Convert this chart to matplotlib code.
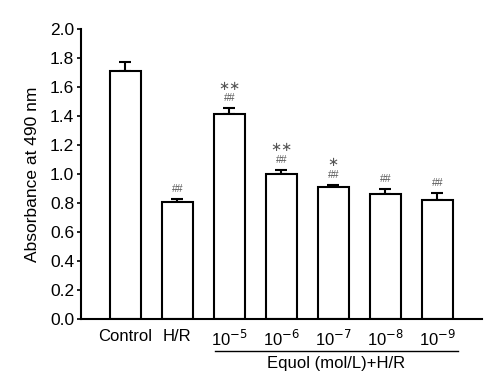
import matplotlib.pyplot as plt

plt.rcParams['font.family'] = ['Liberation Sans', 'DejaVu Sans']

# --- Daten ---
gruppen = ['Control', 'H/R', '10$^{-5}$', '10$^{-6}$', '10$^{-7}$', '10$^{-8}$', '10$^{-9}$']
absorbanz = [1.714, 0.811, 1.414, 1.004, 0.915, 0.866, 0.825]
fehler = [0.063, 0.020, 0.045, 0.028, 0.014, 0.035, 0.048]
rauten = ['', '##', '##', '##', '##', '##', '##']
sterne = ['', '', '**', '**', '*', '', '']
y_ticks = [0.0, 0.2, 0.4, 0.6, 0.8, 1.0, 1.2, 1.4, 1.6, 1.8, 2.0]

fig = plt.figure(figsize=(4.95, 3.81), dpi=100)
ax = fig.add_axes([0.1636, 0.162, 0.81, 0.761])

x = list(range(len(gruppen)))
ax.bar(x, absorbanz, width=0.6, color='white', edgecolor='black', linewidth=1.5, zorder=2)
ax.errorbar(x, absorbanz, yerr=[[0] * len(fehler), fehler], fmt='none', ecolor='black',
            elinewidth=1.5, capsize=4, capthick=1.5, zorder=1)

for xi, v, e, r, s in zip(x, absorbanz, fehler, rauten, sterne):
    top = v + e
    if r:
        ax.text(xi, top + 0.065, r, ha='center', va='center', fontsize=7.5, color='#555555')
    if s:
        ax.text(xi, top + 0.15, s.replace('*', '\u2217'), ha='center', va='center',
                fontsize=9.5, color='#555555', family=['DejaVu Sans'])

ax.set_xlim(-0.856, 6.86)
ax.set_ylim(0, 2.0)
ax.set_yticks(y_ticks)
ax.set_yticklabels([f'{t:.1f}' for t in y_ticks])
ax.set_xticks(x)
ax.set_xticklabels(gruppen)
ax.tick_params(axis='x', length=0, pad=7, labelsize=12)
ax.tick_params(axis='y', length=3, width=1.2, pad=2, labelsize=12.5)
ax.set_ylabel('Absorbance at 490 nm', fontsize=12.5, labelpad=7)

for side in ['top', 'right']:
    ax.spines[side].set_visible(False)
for side in ['left', 'bottom']:
    ax.spines[side].set_linewidth(1.5)

# Gruppenlinie unter den Equol-Konzentrationen
ax.plot([1.72, 6.39], [-0.222, -0.222], color='black', linewidth=1.0, clip_on=False)
ax.text(4.05, -0.25, 'Equol (mol/L)+H/R', ha='center', va='top', fontsize=12, clip_on=False)

fig.savefig('out.png', dpi=100)
